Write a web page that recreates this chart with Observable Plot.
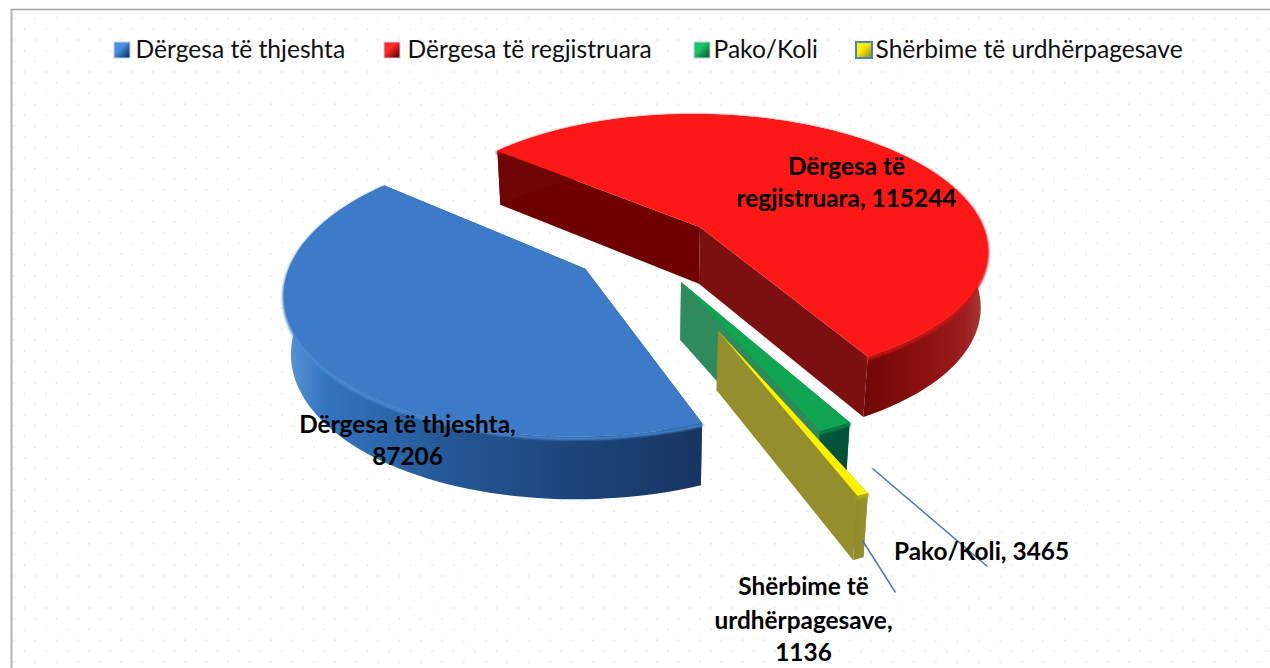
<!DOCTYPE html>
<html><head><meta charset="utf-8">
<script src="https://cdn.jsdelivr.net/npm/d3@7"></script>
<script src="https://cdn.jsdelivr.net/npm/@observablehq/plot@0.6"></script>
<style>html,body{margin:0;padding:0;background:#fff;overflow:hidden}svg{display:block}</style>
</head><body><div id="chart"></div>
<script>
const categories = ["Dërgesa të thjeshta","Dërgesa të regjistruara","Pako/Koli","Shërbime të urdhërpagesave"];
const values = [87206,115244,3465,1136];
const explode = [0.25,0.25,0.265,0.6];
const radii = [1,1,0.96,0.94];
const topColors = ["#3d7bc8","#fd1818","#0fa552","#fff200"];
const startFaceColors = ["#1d4a85","#6e0000","#1e7a4c","#8f8a2a"];
const endFaceColors = ["#1d4a85","#7c1010","#2f8a5c","#948f2c"];
const rimColors = ["#4a8bd6","#d81212","#0a8a48","#b0aa20"];
const wallStops = [
  [[0,"#5f97da"],[0.1,"#3274c0"],[0.4,"#245795"],[0.7,"#1c4479"],[1,"#173563"]],
  [[0,"#6f0505"],[0.74,"#6f0505"],[0.86,"#8a1010"],[0.95,"#9a1c1c"],[1,"#ad4040"]],
  [[0,"#00583c"],[1,"#00503a"]],
  [[0,"#8f8a2a"],[1,"#99942e"]]
];
const swatchStops = [["#4a90de","#123f78"],["#ff2a2a","#7d0000"],["#1cc468","#0a6a38"],["#fff200","#a89c10"]];
const legendSwatchX = [114,384,694,856];
const legendTextX = [135,407,713,875];
const labelLines = [
  {t:"Dërgesa të",x:846,y:167},{t:"regjistruara, 115244",x:846,y:199},
  {t:"Dërgesa të thjeshta,",x:407,y:425},{t:"87206",x:407,y:457},
  {t:"Pako/Koli, 3465",x:981,y:552},
  {t:"Shërbime të",x:803,y:587},{t:"urdhërpagesave,",x:803,y:621},{t:"1136",x:803,y:653}
];
const leaders = [{x1:872,y1:468,x2:987,y2:566},{x1:862,y1:540,x2:895,y2:592}];

const W=1270,H=668;
const X0=645,Y0=248,A=290,B=136,P=0.15,DEPTH=57;
const rad=Math.PI/180;
function proj(u,v,dz){const w=1-P*v;const s=1-0.02*dz;return {x:X0+A*u/w*s,y:Y0+B*v/w+DEPTH*dz/Math.sqrt(w)};}

const arcs=d3.pie().sort(null).startAngle(158.5*rad).endAngle((158.5+360)*rad)(values);
const slices=arcs.map((a,i)=>{
  const t0=a.startAngle-Math.PI/2,t1=a.endAngle-Math.PI/2,mid=(t0+t1)/2;
  const cu=explode[i]*Math.cos(mid),cv=explode[i]*Math.sin(mid);
  const n=Math.max(2,Math.ceil((t1-t0)/(2*rad)));
  const ring=d3.range(n+1).map(k=>{const t=t0+(t1-t0)*k/n;return [cu+radii[i]*Math.cos(t),cv+radii[i]*Math.sin(t)];});
  const topArc=ring.map(([u,v])=>proj(u,v,0));
  const botArc=ring.map(([u,v])=>proj(u,v,1)).reverse();
  const apexT=proj(cu,cv,0),apexB=proj(cu,cv,1);
  return {
    top:[apexT,...topArc],
    wall:[...topArc,...botArc],
    rim:ring.map(([u,v])=>proj(u,v,0.03)),
    startFace:[apexT,topArc[0],botArc[botArc.length-1],apexB],
    endFace:[apexT,topArc[topArc.length-1],botArc[0],apexB]
  };
});

const dots=[];
d3.range(0,64).forEach(r=>d3.range(0,60).forEach(c=>{
  dots.push({x:(r%2?24:13)+c*21.45,y:18+r*10.72});
}));

const ns="http://www.w3.org/2000/svg";
function defs(){
  const d=document.createElementNS(ns,"defs");
  const mk=(id,stops,x2,y2)=>{
    const g=document.createElementNS(ns,"linearGradient");
    g.setAttribute("id",id);g.setAttribute("x1","0");g.setAttribute("y1","0");
    g.setAttribute("x2",x2);g.setAttribute("y2",y2);
    stops.forEach(([o,c])=>{const s=document.createElementNS(ns,"stop");s.setAttribute("offset",o);s.setAttribute("stop-color",c);g.appendChild(s);});
    d.appendChild(g);
  };
  wallStops.forEach((s,i)=>mk("wall"+i,s,"1","0"));
  swatchStops.forEach((s,i)=>mk("sw"+i,[[0,s[0]],[0.4,s[0]],[0.85,s[1]],[1,s[1]]],"1","1"));
  return d;
}
const poly=(pts,fill)=>Plot.line(pts,{x:"x",y:"y",fill,stroke:"none",imageFilter:"blur(0.6px)"});
const drawOrder=[1,0,2,3];
const pie=drawOrder.flatMap(i=>{
  const s=slices[i];
  return [
    poly(s.startFace,startFaceColors[i]),
    poly(s.endFace,endFaceColors[i]),
    poly(s.wall,`url(#wall${i})`),
    Plot.line(s.rim,{x:"x",y:"y",stroke:rimColors[i],strokeWidth:3,imageFilter:"blur(1px)"}),
    poly(s.top,topColors[i])
  ];
});
const swatches=categories.map((c,i)=>({c,x1:legendSwatchX[i],x2:legendSwatchX[i]+16,y1:42,y2:58,i}));
const legendTexts=categories.map((c,i)=>({c,x:legendTextX[i]}));

const plot=Plot.plot({
  width:W,height:H,margin:0,
  x:{domain:[0,W],range:[0,W],axis:null},
  y:{domain:[0,H],range:[0,H],axis:null},
  marks:[
    defs,
    Plot.dot(dots,{x:"x",y:"y",r:1,fill:"#e9e9e9"}),
    Plot.ruleX([11],{y1:9,y2:H,stroke:"#b4b4b4",strokeWidth:2}),
    Plot.ruleY([9],{x1:11,x2:W,stroke:"#a8a8a8",strokeWidth:1.5}),
    ...pie,
    Plot.link(leaders,{x1:"x1",y1:"y1",x2:"x2",y2:"y2",stroke:"#4472b8",strokeWidth:1.4}),
    ...swatches.map(s=>Plot.rect([s],{x1:"x1",x2:"x2",y1:"y1",y2:"y2",fill:`url(#sw${s.i})`,stroke:s.i==3?"#4f81bd":"#c8d4e4",strokeWidth:s.i==3?2:1,imageFilter:"blur(0.5px)"})),
    Plot.text(legendTexts,{x:"x",y:()=>50,text:"c",textAnchor:"start",fontFamily:"Lato",fontSize:24.6,fill:"#111",lineAnchor:"middle"}),
    Plot.text(labelLines,{x:"x",y:"y",text:"t",textAnchor:"middle",lineAnchor:"middle",fontFamily:"Lato",fontWeight:700,fontSize:24.4,fill:"#000"})
  ]
});
document.getElementById("chart").appendChild(plot);
</script></body></html>
